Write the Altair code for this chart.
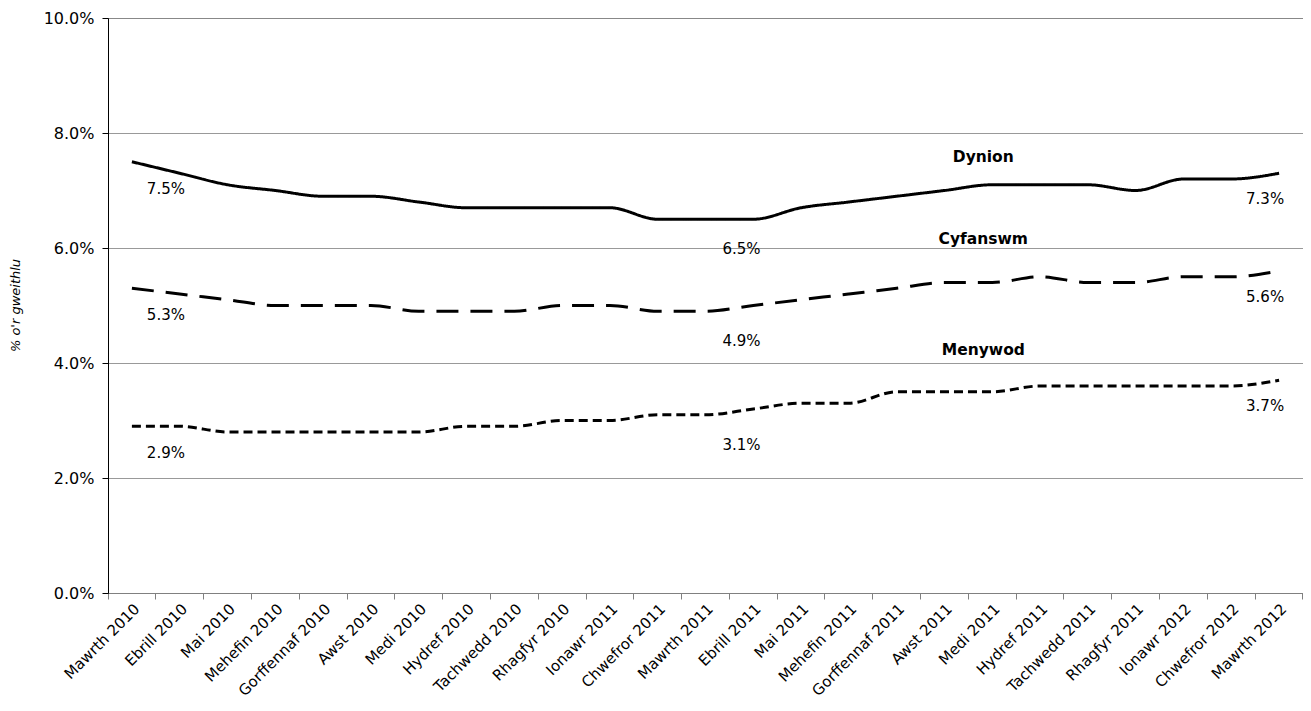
import altair as alt
import pandas as pd

months = ["Mawrth 2010", "Ebrill 2010", "Mai 2010", "Mehefin 2010", "Gorffennaf 2010",
          "Awst 2010", "Medi 2010", "Hydref 2010", "Tachwedd 2010", "Rhagfyr 2010",
          "Ionawr 2011", "Chwefror 2011", "Mawrth 2011", "Ebrill 2011", "Mai 2011",
          "Mehefin 2011", "Gorffennaf 2011", "Awst 2011", "Medi 2011", "Hydref 2011",
          "Tachwedd 2011", "Rhagfyr 2011", "Ionawr 2012", "Chwefror 2012", "Mawrth 2012"]

dynion = [7.5, 7.3, 7.1, 7.0, 6.9, 6.9, 6.8, 6.7, 6.7, 6.7, 6.7, 6.5, 6.5,
          6.5, 6.7, 6.8, 6.9, 7.0, 7.1, 7.1, 7.1, 7.0, 7.2, 7.2, 7.3]
cyfanswm = [5.3, 5.2, 5.1, 5.0, 5.0, 5.0, 4.9, 4.9, 4.9, 5.0, 5.0, 4.9, 4.9,
            5.0, 5.1, 5.2, 5.3, 5.4, 5.4, 5.5, 5.4, 5.4, 5.5, 5.5, 5.6]
menywod = [2.9, 2.9, 2.8, 2.8, 2.8, 2.8, 2.8, 2.9, 2.9, 3.0, 3.0, 3.1, 3.1,
           3.2, 3.3, 3.3, 3.5, 3.5, 3.5, 3.6, 3.6, 3.6, 3.6, 3.6, 3.7]

series_names = ["Dynion", "Cyfanswm", "Menywod"]
y_ticks = [0, 2, 4, 6, 8, 10]

rows = []
for name, vals in zip(series_names, [dynion, cyfanswm, menywod]):
    for i, (m, v) in enumerate(zip(months, vals)):
        rows.append({"month": m, "idx": i, "series": name, "value": v,
                     "label": f"{v:.1f}%"})
df = pd.DataFrame(rows)

FONT = "DejaVu Sans"

x_enc = alt.X("month:N", sort=months,
              scale=alt.Scale(type="band", paddingInner=0, paddingOuter=0),
              axis=alt.Axis(title=None, labelAngle=-45, bandPosition=1, tickExtra=True,
                            labelFontSize=15, labelColor="black", labelFont=FONT,
                            domainColor="#808080", tickColor="#808080", tickSize=6,
                            labelPadding=2, grid=False))
y_enc = alt.Y("value:Q", scale=alt.Scale(domain=[0, 10], nice=False),
              axis=alt.Axis(values=y_ticks,
                            labelExpr="format(datum.value, '.1f') + '%'",
                            title="% o'r gweithlu", titleFontStyle="italic",
                            titleFontWeight="normal", titleFontSize=13, titleFont=FONT,
                            titleX=-86, titleY=287, titleColor="black",
                            labelFontSize=16, labelColor="black", labelFont=FONT,
                            labelPadding=8,
                            grid=True, gridDash=[1, 1], gridColor="#333", gridWidth=1,
                            domainColor="black", tickColor="black", tickSize=6))

base = alt.Chart(df)

lines = base.mark_line(interpolate="monotone", color="black", strokeWidth=3).encode(
    x=x_enc, y=y_enc,
    strokeDash=alt.StrokeDash("series:N",
                              scale=alt.Scale(domain=series_names,
                                              range=[[1, 0], [22, 12], [9, 5]]),
                              legend=None),
    detail="series:N",
)

def value_labels(idx, dx, dy):
    return base.transform_filter(alt.datum.idx == idx).mark_text(
        font=FONT, fontSize=15, color="black", dx=dx, dy=dy
    ).encode(x=alt.X("month:N", sort=months), y="value:Q", text="label:N")

def name_label(series, dy):
    return base.transform_filter(
        (alt.datum.series == series) & (alt.datum.month == "Medi 2011")
    ).mark_text(font=FONT, fontSize=15.5, fontWeight="bold", color="black",
                dx=-9, dy=dy).encode(x=alt.X("month:N", sort=months), y="value:Q",
                                     text="series:N")

chart = alt.layer(
    lines,
    value_labels(0, 34, 27),
    value_labels(12, 36, 30),
    value_labels(24, -14, 26),
    name_label("Dynion", -28),
    name_label("Cyfanswm", -44),
    name_label("Menywod", -42),
).properties(
    width=1195, height=575, autosize="none",
    padding={"left": 100, "top": 10, "right": 0, "bottom": 110},
).configure_view(stroke=None).configure(font=FONT)

chart.save("out.html", embed_options={"renderer": "svg", "actions": False})
